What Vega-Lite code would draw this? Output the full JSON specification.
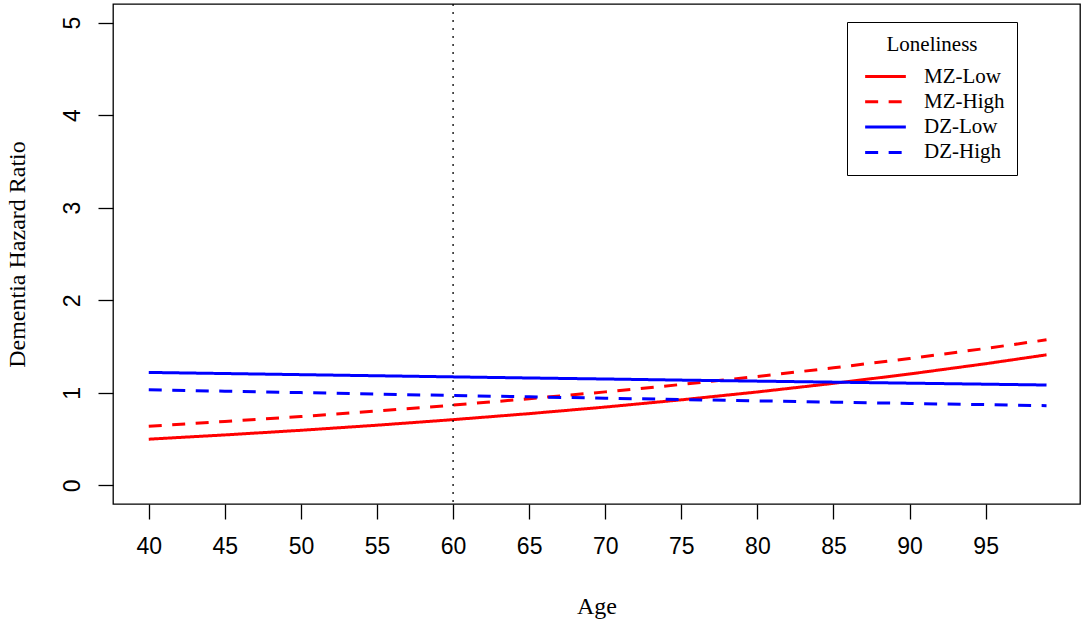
{
  "$schema": "https://vega.github.io/schema/vega-lite/v6.json",
  "width": 967,
  "height": 500,
  "autosize": {"type": "none"},
  "padding": {"left": 113, "top": 4, "right": 4, "bottom": 119},
  "background": "white",
  "data": {
    "values": [
      {"Age": 40, "Group": "MZ-Low", "HR": 0.500},
      {"Age": 45, "Group": "MZ-Low", "HR": 0.546},
      {"Age": 50, "Group": "MZ-Low", "HR": 0.596},
      {"Age": 55, "Group": "MZ-Low", "HR": 0.651},
      {"Age": 60, "Group": "MZ-Low", "HR": 0.711},
      {"Age": 65, "Group": "MZ-Low", "HR": 0.776},
      {"Age": 70, "Group": "MZ-Low", "HR": 0.847},
      {"Age": 75, "Group": "MZ-Low", "HR": 0.925},
      {"Age": 80, "Group": "MZ-Low", "HR": 1.010},
      {"Age": 85, "Group": "MZ-Low", "HR": 1.103},
      {"Age": 90, "Group": "MZ-Low", "HR": 1.204},
      {"Age": 95, "Group": "MZ-Low", "HR": 1.315},
      {"Age": 99, "Group": "MZ-Low", "HR": 1.411},
      {"Age": 40, "Group": "MZ-High", "HR": 0.640},
      {"Age": 45, "Group": "MZ-High", "HR": 0.691},
      {"Age": 50, "Group": "MZ-High", "HR": 0.745},
      {"Age": 55, "Group": "MZ-High", "HR": 0.804},
      {"Age": 60, "Group": "MZ-High", "HR": 0.868},
      {"Age": 65, "Group": "MZ-High", "HR": 0.937},
      {"Age": 70, "Group": "MZ-High", "HR": 1.011},
      {"Age": 75, "Group": "MZ-High", "HR": 1.091},
      {"Age": 80, "Group": "MZ-High", "HR": 1.177},
      {"Age": 85, "Group": "MZ-High", "HR": 1.271},
      {"Age": 90, "Group": "MZ-High", "HR": 1.371},
      {"Age": 95, "Group": "MZ-High", "HR": 1.480},
      {"Age": 99, "Group": "MZ-High", "HR": 1.573},
      {"Age": 40, "Group": "DZ-Low", "HR": 1.221},
      {"Age": 45, "Group": "DZ-Low", "HR": 1.209},
      {"Age": 50, "Group": "DZ-Low", "HR": 1.197},
      {"Age": 55, "Group": "DZ-Low", "HR": 1.185},
      {"Age": 60, "Group": "DZ-Low", "HR": 1.173},
      {"Age": 65, "Group": "DZ-Low", "HR": 1.161},
      {"Age": 70, "Group": "DZ-Low", "HR": 1.150},
      {"Age": 75, "Group": "DZ-Low", "HR": 1.138},
      {"Age": 80, "Group": "DZ-Low", "HR": 1.127},
      {"Age": 85, "Group": "DZ-Low", "HR": 1.116},
      {"Age": 90, "Group": "DZ-Low", "HR": 1.105},
      {"Age": 95, "Group": "DZ-Low", "HR": 1.094},
      {"Age": 99, "Group": "DZ-Low", "HR": 1.085},
      {"Age": 40, "Group": "DZ-High", "HR": 1.034},
      {"Age": 45, "Group": "DZ-High", "HR": 1.018},
      {"Age": 50, "Group": "DZ-High", "HR": 1.003},
      {"Age": 55, "Group": "DZ-High", "HR": 0.987},
      {"Age": 60, "Group": "DZ-High", "HR": 0.972},
      {"Age": 65, "Group": "DZ-High", "HR": 0.957},
      {"Age": 70, "Group": "DZ-High", "HR": 0.943},
      {"Age": 75, "Group": "DZ-High", "HR": 0.928},
      {"Age": 80, "Group": "DZ-High", "HR": 0.914},
      {"Age": 85, "Group": "DZ-High", "HR": 0.900},
      {"Age": 90, "Group": "DZ-High", "HR": 0.886},
      {"Age": 95, "Group": "DZ-High", "HR": 0.873},
      {"Age": 99, "Group": "DZ-High", "HR": 0.862}
    ]
  },
  "layer": [
    {
      "mark": {"type": "line", "strokeWidth": 3, "strokeCap": "butt"},
      "encoding": {
        "x": {
          "field": "Age",
          "type": "quantitative",
          "title": "Age",
          "scale": {"domain": [37.65, 101.2], "nice": false, "zero": false},
          "axis": {
            "values": [40, 45, 50, 55, 60, 65, 70, 75, 80, 85, 90, 95],
            "labelPadding": 16,
            "titleY": 109,
            "titleBaseline": "alphabetic"
          }
        },
        "y": {
          "field": "HR",
          "type": "quantitative",
          "title": "Dementia Hazard Ratio",
          "scale": {"domain": [-0.2, 5.2], "nice": false, "zero": false},
          "axis": {
            "values": [0, 1, 2, 3, 4, 5],
            "labelAngle": -90,
            "labelAlign": "center",
            "labelBaseline": "bottom",
            "labelPadding": 14,
            "titleX": -89,
            "titleBaseline": "alphabetic"
          }
        },
        "color": {
          "field": "Group",
          "type": "nominal",
          "scale": {
            "domain": ["MZ-Low", "MZ-High", "DZ-Low", "DZ-High"],
            "range": ["#ff0000", "#ff0000", "#0000ff", "#0000ff"]
          },
          "legend": {
            "title": "Loneliness",
            "orient": "none",
            "legendX": 734,
            "legendY": 18,
            "symbolType": "M-1.85,0H1.85",
            "symbolSize": 484,
            "symbolStrokeWidth": 3,
            "symbolOffset": 14,
            "labelOffset": 26,
            "padding": 12,
            "titlePadding": 9,
            "rowPadding": 2.3,
            "titleAnchor": "middle",
            "strokeColor": "black"
          }
        },
        "strokeDash": {
          "field": "Group",
          "type": "nominal",
          "scale": {
            "domain": ["MZ-Low", "MZ-High", "DZ-Low", "DZ-High"],
            "range": [[1, 0], [13, 10.5], [1, 0], [13, 10.5]]
          },
          "legend": null
        }
      }
    },
    {
      "data": {"values": [{"Age": 60}]},
      "mark": {"type": "rule", "color": "black", "strokeWidth": 1.3, "strokeDash": [2, 6]},
      "encoding": {
        "x": {"field": "Age", "type": "quantitative"}
      }
    }
  ],
  "config": {
    "view": {"stroke": "black", "strokeWidth": 1.3},
    "axis": {
      "grid": false,
      "domain": false,
      "tickColor": "black",
      "tickWidth": 1.3,
      "tickSize": 15,
      "labelFont": "Liberation Sans",
      "labelFontSize": 23,
      "labelColor": "black",
      "labelFlush": false,
      "labelOverlap": false,
      "titleFont": "Liberation Serif",
      "titleFontSize": 24,
      "titleFontWeight": "normal",
      "titleColor": "black"
    },
    "legend": {
      "labelFont": "Liberation Serif",
      "labelFontSize": 21,
      "labelColor": "black",
      "titleFont": "Liberation Serif",
      "titleFontSize": 21,
      "titleFontWeight": "normal",
      "titleColor": "black",
      "fillColor": "white"
    }
  }
}
